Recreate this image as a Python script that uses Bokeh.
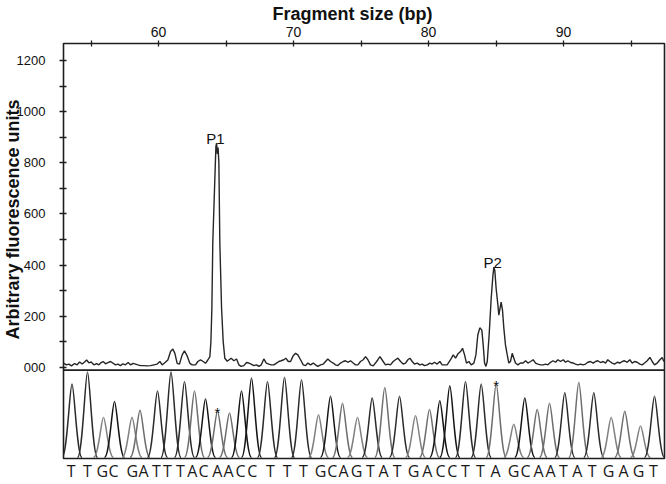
import numpy as np
from bokeh.plotting import figure
from bokeh.models import Range1d, FixedTicker, Span, Title, LinearAxis, ColumnDataSource
from bokeh.core.properties import value
from bokeh.embed import file_html
from bokeh.resources import INLINE

# ---------------- data: fragment analysis trace (top panel) ----------------
size_bp = [52.99, 53.18, 53.36, 53.55, 53.78, 53.97, 54.15, 54.34, 54.52, 54.67, 54.84, 55.01,
           55.21, 55.41, 55.58, 55.75, 55.90, 56.07, 56.25, 56.44, 56.62, 56.81, 56.99, 57.18,
           57.36, 57.55, 57.75, 57.92, 58.12, 58.30, 58.47, 58.67, 58.91, 59.16, 59.41, 59.65,
           59.90, 60.10, 60.27, 60.44, 60.69, 60.89, 61.06, 61.21, 61.38, 61.55, 61.75, 61.92,
           62.12, 62.32, 62.49, 62.74, 62.91, 63.11, 63.31, 63.48, 63.65, 63.80,
           63.88, 63.95, 64.02, 64.15, 64.25, 64.30, 64.36, 64.41, 64.47, 64.54, 64.67, 64.79,
           64.91, 65.09,
           65.21, 65.38, 65.58, 65.78, 65.95, 66.12, 66.32, 66.52, 66.69, 66.86, 67.06, 67.26,
           67.43, 67.61, 67.80, 67.98, 68.17, 68.35, 68.54, 68.74, 68.91, 69.09, 69.28, 69.43,
           69.61, 69.78, 69.98, 70.15, 70.32, 70.52, 70.72, 70.89, 71.06, 71.26, 71.46, 71.63,
           71.80, 72.00, 72.20, 72.37, 72.54, 72.74, 72.94, 73.11, 73.28, 73.48, 73.68, 73.85,
           74.02, 74.22, 74.42, 74.59, 74.77, 74.96, 75.16, 75.33, 75.51, 75.70, 75.90, 76.07,
           76.25, 76.40,
           76.64, 76.81, 76.99, 77.18, 77.38, 77.55, 77.73, 77.93, 78.12, 78.30, 78.47, 78.62,
           78.79, 78.96, 79.16, 79.36, 79.53, 79.70, 79.90, 80.10, 80.27, 80.44, 80.64, 80.84,
           81.01,
           81.14, 81.38, 81.63, 81.83, 82.00, 82.17, 82.37, 82.52, 82.67, 82.81, 82.99, 83.16,
           83.36, 83.51, 83.65, 83.80, 83.95, 84.05, 84.15, 84.25, 84.35, 84.49, 84.64, 84.77,
           84.84, 84.91, 85.01, 85.14, 85.21, 85.28, 85.38, 85.48, 85.58, 85.70, 85.83, 85.95,
           86.07, 86.20, 86.32, 86.44, 86.62, 86.81,
           87.01, 87.19, 87.36, 87.56, 87.75, 87.93, 88.10, 88.30, 88.49, 88.67, 88.84, 89.04,
           89.23, 89.41, 89.58, 89.78, 89.98, 90.15, 90.32, 90.52, 90.72, 90.89, 91.06, 91.26,
           91.46, 91.63, 91.80, 92.00, 92.20, 92.37, 92.54, 92.74, 92.94, 93.11, 93.28, 93.43,
           93.61, 93.78, 93.98, 94.17, 94.35, 94.52, 94.72, 94.91, 95.09, 95.26, 95.46, 95.65,
           95.83, 96.00, 96.20, 96.40, 96.57, 96.74, 96.94, 97.14, 97.31, 97.43]
fluorescence = [15, 9, 12, 5, 14, 9, 20, 12, 20, 28, 17, 20,
                9, 14, 9, 18, 22, 13, 18, 22, 16, 9, 12, 6,
                13, 9, 18, 9, 15, 12, 9, 6, 6, 5, 6, 9,
                12, 22, 9, 16, 28, 61, 71, 54, 15, 12, 48, 64,
                44, 15, 9, 9, 22, 28, 22, 15, 28, 40,
                100, 230, 489, 703, 865, 878, 835, 860, 800, 489, 230, 100,
                35, 23,
                28, 35, 25, 32, 9, 3, 6, 18, 16, 12, 6, 9,
                3, 9, 32, 16, 12, 9, 9, 16, 22, 25, 29, 35,
                22, 22, 45, 54, 48, 29, 9, 6, 16, 9, 16, 9,
                3, 9, 12, 22, 32, 22, 16, 9, 6, 16, 22, 25,
                19, 25, 16, 9, 9, 22, 29, 41, 29, 9, 5, 16,
                29, 41,
                22, 9, 12, 9, 22, 29, 35, 22, 12, 16, 29, 35,
                22, 12, 16, 9, 12, 6, 9, 16, 12, 19, 12, 22,
                9,
                9, 9, 29, 48, 35, 51, 61, 74, 48, 16, 22, 9,
                16, 48, 126, 154, 145, 87, 16, 3, 22, 126, 268, 359,
                392, 379, 307, 243, 204, 225, 255, 223, 152, 87, 48, 16,
                22, 54, 35, 16, 9, 16,
                16, 25, 16, 22, 29, 16, 12, 9, 9, 12, 9, 19,
                25, 19, 29, 22, 29, 19, 25, 18, 16, 12, 9, 12,
                9, 12, 19, 22, 16, 22, 25, 18, 22, 16, 29, 22,
                16, 12, 19, 16, 22, 25, 19, 29, 16, 22, 19, 12,
                9, 16, 25, 38, 22, 9, 16, 29, 38, 22]

size_ticks = [60, 70, 80, 90]
size_minor_ticks = [55, 65, 75, 85, 95]
rfu_ticks = [0, 200, 400, 600, 800, 1000, 1200]
rfu_tick_labels = ["000", "200", "400", "600", "800", "1000", "1200"]
rfu_minor_ticks = [100, 300, 500, 700, 900, 1100]

peak_names = ["P1", "P2"]
peak_name_bp = [64.22, 84.75]
peak_name_rfu = [878, 392]

# ---------------- data: sequencing chromatogram (bottom panel) ----------------
bases = list("TTGCGATTTACAACCTTTGCAGTATGACCTTAGCAATATGAGT")
peak_scan = [8.5, 24, 40, 51, 68.5, 76.5, 94, 107.5, 121, 131, 142, 154, 166, 178, 188,
             204, 221, 238, 255, 267, 279, 294, 308.7, 321.3, 336, 352, 366, 376.3, 386.3,
             402, 417.7, 432.7, 450.3, 461.3, 473.7, 486, 501.3, 515.3, 530.3, 547.7, 561.3,
             577, 591]
peak_signal = [0.84, 0.98, 0.46, 0.64, 0.46, 0.54, 0.76, 0.98, 0.87, 0.76, 0.67, 0.53, 0.51,
               0.76, 0.91, 0.87, 0.92, 0.89, 0.49, 0.70, 0.62, 0.46, 0.68, 0.80, 0.70, 0.48,
               0.55, 0.65, 0.82, 0.87, 0.84, 0.84, 0.38, 0.68, 0.55, 0.62, 0.74, 0.86, 0.74,
               0.46, 0.53, 0.36, 0.70]
letter_scan = [7.7, 24.0, 38.7, 50.0, 68.7, 80.0, 93.0, 104.0, 117.0, 128.7, 140.0, 153.7,
               165.0, 177.0, 188.7, 207.0, 223.7, 240.0, 257.0, 268.7, 280.0, 293.0, 307.0,
               320.0, 333.7, 350.0, 363.7, 377.0, 388.7, 402.0, 417.0, 432.0, 450.0, 462.0,
               475.0, 487.0, 500.0, 513.7, 528.7, 545.0, 560.0, 575.0, 590.0]
starred_peaks = [12, 32]   # 1-based peak numbers marked with *

# ---------------- styling ----------------
INK = "#1e1e1e"
base_color = {"T": "#2b2b2b", "C": "#141414", "A": "#6e6e6e", "G": "#808080"}
HALF_W = 10.0

p = figure(width=666, height=484, output_backend="svg", toolbar_location=None,
           x_range=Range1d(52.96, 97.48), y_range=Range1d(-358, 1268),
           x_axis_location="above",
           min_border_left=63, min_border_right=2, min_border_top=43, min_border_bottom=23,
           background_fill_color="white", border_fill_color="white",
           outline_line_color=INK, outline_line_width=1.6)
p.grid.visible = False

# title (above the top axis)
p.title.text = "Fragment size (bp)"
p.title.align = "left"
p.title.offset = 209
p.title.standoff = 0
p.title.text_font = "Liberation Sans"
p.title.text_font_style = "bold"
p.title.text_font_size = "18px"
p.title.text_color = "#111111"

ax = p.xaxis[0]
ax.ticker = FixedTicker(ticks=size_ticks, minor_ticks=size_minor_ticks)
ax.axis_line_color = None
ax.major_tick_in = 3; ax.major_tick_out = 3
ax.minor_tick_in = 3; ax.minor_tick_out = 3
ax.major_tick_line_color = INK; ax.minor_tick_line_color = INK
ax.major_tick_line_width = 1.3; ax.minor_tick_line_width = 1.3
ax.major_label_text_font = "Liberation Sans"
ax.major_label_text_font_size = "14px"
ax.major_label_text_color = "#111111"
ax.major_label_standoff = 4

ay = p.yaxis[0]
ay.ticker = FixedTicker(ticks=rfu_ticks, minor_ticks=rfu_minor_ticks)
ay.major_label_overrides = {t: s for t, s in zip(rfu_ticks, rfu_tick_labels)}
ay.axis_line_color = None
ay.major_tick_in = 3; ay.major_tick_out = 4
ay.minor_tick_in = 3; ay.minor_tick_out = 4
ay.major_tick_line_color = INK; ay.minor_tick_line_color = INK
ay.major_tick_line_width = 1.3; ay.minor_tick_line_width = 1.3
ay.major_label_text_font = "Liberation Sans"
ay.major_label_text_font_size = "13px"
ay.major_label_text_color = "#111111"
ay.major_label_standoff = 14

p.add_layout(Title(text="Arbitrary fluorescence units", align="left", offset=119, standoff=-18,
                   text_font="Liberation Sans", text_font_style="bold", text_font_size="18px",
                   text_color="#111111"), "left")

# top trace
p.line(size_bp, fluorescence, line_color="#262626", line_width=1.4)
p.text(x=peak_name_bp, y=peak_name_rfu, text=peak_names, text_align="center",
       text_baseline="alphabetic", y_offset=-5, text_font=value("Liberation Sans"),
       text_font_size="15px", text_color="#111111")

# separator between panels
p.add_layout(Span(location=-11.7, dimension="width", line_color=INK, line_width=1.6))

# chromatogram
p.extra_x_ranges = {"scan": Range1d(0, 601)}
p.extra_y_ranges = {"sig": Range1d(-0.0114, 4.739)}
cols = dict(x0=[], y0=[], x1=[], y1=[], cx0=[], cy0=[], cx1=[], cy1=[], color=[])
for b, xc, h in zip(bases, peak_scan, peak_signal):
    for side in (-1, 1):
        cols["x0"].append(xc + side * HALF_W); cols["y0"].append(0.0)
        cols["cx0"].append(xc + side * 0.5 * HALF_W); cols["cy0"].append(0.0)
        cols["cx1"].append(xc + side * 0.22 * HALF_W); cols["cy1"].append(h)
        cols["x1"].append(xc); cols["y1"].append(h)
        cols["color"].append(base_color[b])
p.bezier(x0="x0", y0="y0", x1="x1", y1="y1", cx0="cx0", cy0="cy0", cx1="cx1", cy1="cy1",
         source=ColumnDataSource(cols), line_color="color", line_width=1.5,
         x_range_name="scan", y_range_name="sig")

p.text(x=[peak_scan[i - 1] for i in starred_peaks], y=[peak_signal[i - 1] for i in starred_peaks],
       text=["*"] * len(starred_peaks), text_align="center", text_baseline="alphabetic",
       y_offset=1, text_font=value("Liberation Sans"), text_font_size="15px",
       text_color="#111111", x_range_name="scan", y_range_name="sig")

# base calls as the bottom axis labels
seq_axis = LinearAxis(x_range_name="scan",
                      ticker=FixedTicker(ticks=letter_scan, minor_ticks=[]),
                      major_label_overrides={x: b for x, b in zip(letter_scan, bases)})
seq_axis.axis_line_color = None
seq_axis.major_tick_line_color = None
seq_axis.minor_tick_line_color = None
seq_axis.major_tick_in = 0; seq_axis.major_tick_out = 0
seq_axis.major_label_standoff = 1
seq_axis.major_label_text_font = "Open Sans"
seq_axis.major_label_text_font_size = "16px"
seq_axis.major_label_text_color = "#1a1a1a"
p.add_layout(seq_axis, "below")

open("out.html", "w").write(file_html(p, INLINE))
